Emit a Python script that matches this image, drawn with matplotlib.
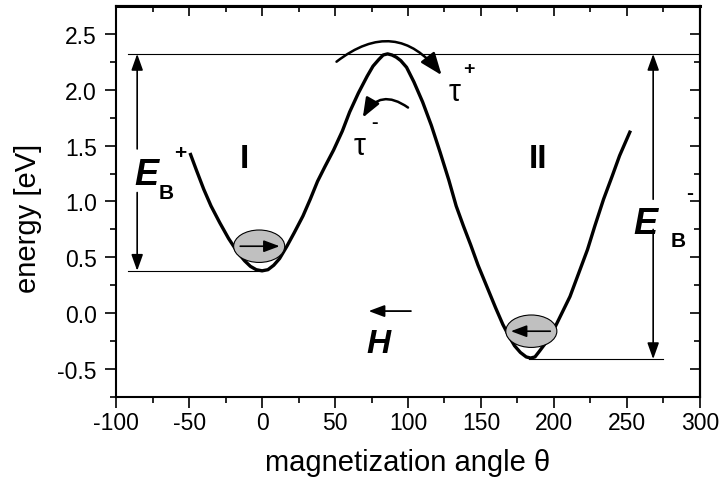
"""Energy landscape vs magnetization angle with barrier annotations"""

import matplotlib
matplotlib.use("Agg")
import matplotlib.pyplot as plt
from matplotlib.patches import Ellipse, FancyArrowPatch

plt.rcParams["font.family"] = ["Liberation Sans", "DejaVu Sans"]
plt.rcParams["axes.unicode_minus"] = False

# energy curve (angle in degrees, energy in eV)
theta = [-49, -45, -40, -35, -29, -23, -17, -12, -8, -4, 0, 4, 8, 12, 17,
         22, 28, 33, 38, 43, 49, 55, 60, 66, 72, 76, 80, 83, 86, 89, 92, 95,
         99, 104, 110, 116, 122, 128, 133, 138, 143, 148, 154, 160, 165, 169,
         173, 177, 181, 184, 187, 190, 194, 199, 205, 211, 217, 223, 228, 234,
         240, 245, 249, 252]
energy = [1.42, 1.28, 1.11, 0.96, 0.81, 0.67, 0.55, 0.47, 0.42, 0.39, 0.38,
          0.39, 0.43, 0.49, 0.60, 0.72, 0.87, 1.02, 1.18, 1.31, 1.46, 1.63,
          1.80, 1.97, 2.12, 2.21, 2.27, 2.31, 2.32, 2.31, 2.29, 2.26, 2.20,
          2.07, 1.89, 1.68, 1.44, 1.19, 0.96, 0.78, 0.61, 0.43, 0.24, 0.05,
          -0.10, -0.20, -0.29, -0.35, -0.39, -0.40, -0.39, -0.34, -0.27, -0.17,
          -0.01, 0.15, 0.36, 0.57, 0.78, 1.02, 1.23, 1.41, 1.53, 1.62]

E_MAX = 2.32
E_MIN_I = 0.38
E_MIN_II = -0.41

fig = plt.figure(figsize=(7.26, 4.85), dpi=100)
ax = fig.add_axes([0.16, 0.179, 0.804, 0.807])

ax.plot(theta, energy, color="black", lw=2.4, solid_joinstyle="round", zorder=3)

# reference levels
ax.plot([-92, 300], [E_MAX, E_MAX], color="black", lw=0.8, zorder=2)
ax.plot([-92, 0], [E_MIN_I, E_MIN_I], color="black", lw=0.8, zorder=2)
ax.plot([183, 275], [E_MIN_II, E_MIN_II], color="black", lw=0.8, zorder=2)

# barrier height arrows
arrow_kw = dict(arrowstyle="-|>,head_length=0.7,head_width=0.25", color="black",
                lw=1.2, shrinkA=0, shrinkB=0, mutation_scale=14)
ax.add_patch(FancyArrowPatch((-85.6, 1.47), (-85.6, E_MAX), **arrow_kw))
ax.add_patch(FancyArrowPatch((-85.6, 1.08), (-85.6, E_MIN_I), **arrow_kw))
ax.add_patch(FancyArrowPatch((268, 1.02), (268, E_MAX), **arrow_kw))
ax.add_patch(FancyArrowPatch((268, 0.75), (268, E_MIN_II), **arrow_kw))

ax.text(-79, 1.24, "E", fontsize=26, fontweight="bold", style="italic",
        ha="center", va="center")
ax.text(-66, 1.08, "B", fontsize=15, fontweight="bold", ha="center", va="center")
ax.text(-56, 1.44, "+", fontsize=15, fontweight="bold", ha="center", va="center")
ax.text(263, 0.80, "E", fontsize=26, fontweight="bold", style="italic",
        ha="center", va="center")
ax.text(285, 0.65, "B", fontsize=15, fontweight="bold", ha="center", va="center")
ax.text(293, 1.08, "-", fontsize=15, fontweight="bold", ha="center", va="center")

# well labels
ax.text(-12, 1.38, "I", fontsize=24, fontweight="bold", ha="center", va="center")
ax.text(189, 1.38, "II", fontsize=24, fontweight="bold", ha="center", va="center")

# magnetization markers in the wells
for cx, cy, sign in [(-2, 0.60, 1), (184.5, -0.16, -1)]:
    ax.add_patch(Ellipse((cx, cy), 35, 0.29, facecolor="#c0c0c0",
                         edgecolor="black", lw=0.8, zorder=4))
    ax.add_patch(FancyArrowPatch((cx - 13 * sign, cy), (cx + 14 * sign, cy),
                                 arrowstyle="-|>,head_length=0.8,head_width=0.3",
                                 color="black", lw=1.2, mutation_scale=12,
                                 shrinkA=0, shrinkB=0, zorder=5))

# torque arcs
ax.add_patch(FancyArrowPatch((51, 2.25), (123, 2.13), connectionstyle="arc3,rad=-0.5",
                             arrowstyle="-|>,head_length=0.9,head_width=0.35",
                             color="black", lw=1.8, mutation_scale=15,
                             shrinkA=0, shrinkB=0, zorder=4))
ax.add_patch(FancyArrowPatch((100, 1.84), (69, 1.75), connectionstyle="arc3,rad=0.55",
                             arrowstyle="-|>,head_length=0.9,head_width=0.35",
                             color="black", lw=1.8, mutation_scale=13,
                             shrinkA=0, shrinkB=0, zorder=4))
ax.text(132, 1.98, "τ", fontsize=22, ha="center", va="center")
ax.text(142, 2.19, "+", fontsize=14, fontweight="bold", ha="center", va="center")
ax.text(67, 1.50, "τ", fontsize=22, ha="center", va="center")
ax.text(77, 1.71, "-", fontsize=14, fontweight="bold", ha="center", va="center")

# external field
ax.add_patch(FancyArrowPatch((102, 0.02), (73, 0.02),
                             arrowstyle="-|>,head_length=0.8,head_width=0.3",
                             color="black", lw=1.3, mutation_scale=12,
                             shrinkA=0, shrinkB=0))
ax.text(80, -0.27, "H", fontsize=24, fontweight="bold", style="italic",
        ha="center", va="center")

XMAJ = list(range(-100, 301, 50))
XMIN = list(range(-75, 300, 50))
YMAJ = [-0.5, 0.0, 0.5, 1.0, 1.5, 2.0, 2.5]
YMIN = [-0.75, -0.25, 0.25, 0.75, 1.25, 1.75, 2.25]

ax.set_xlim(-100, 300)
ax.set_ylim(-0.75, 2.75)
ax.set_xticks(XMAJ)
ax.set_xticks(XMIN, minor=True)
ax.set_yticks(YMAJ)
ax.set_yticks(YMIN, minor=True)
ax.set_yticklabels(["-0.5", "0.0", "0.5", "1.0", "1.5", "2.0", "2.5"])
ax.tick_params(which="both", direction="out", width=1.2, labelsize=16.5,
               colors="black")
ax.tick_params(which="major", length=8)
ax.tick_params(which="minor", length=4.5)
ax.tick_params(axis="x", which="major", pad=2)
ax.tick_params(axis="y", which="major", pad=6)

# mirrored inward ticks on top and right
top = ax.secondary_xaxis("top")
top.set_xticks(XMAJ)
top.set_xticks(XMIN, minor=True)
right = ax.secondary_yaxis("right")
right.set_yticks(YMAJ)
right.set_yticks(YMIN, minor=True)
for sec, side in [(top, "top"), (right, "right")]:
    sec.tick_params(which="both", direction="in", width=1.2, labelleft=False,
                    labelright=False, labeltop=False, labelbottom=False)
    sec.tick_params(which="major", length=7)
    sec.tick_params(which="minor", length=4)
    sec.spines[side].set_linewidth(1.5)
top.spines["top"].set_linewidth(2.2)

for s in ax.spines.values():
    s.set_linewidth(1.5)

ax.set_xlabel("magnetization angle θ", fontsize=21, labelpad=10)
ax.set_ylabel("energy [eV]", fontsize=21)
ax.yaxis.set_label_coords(-0.127, 0.46)

fig.savefig("out.png", dpi=100)
